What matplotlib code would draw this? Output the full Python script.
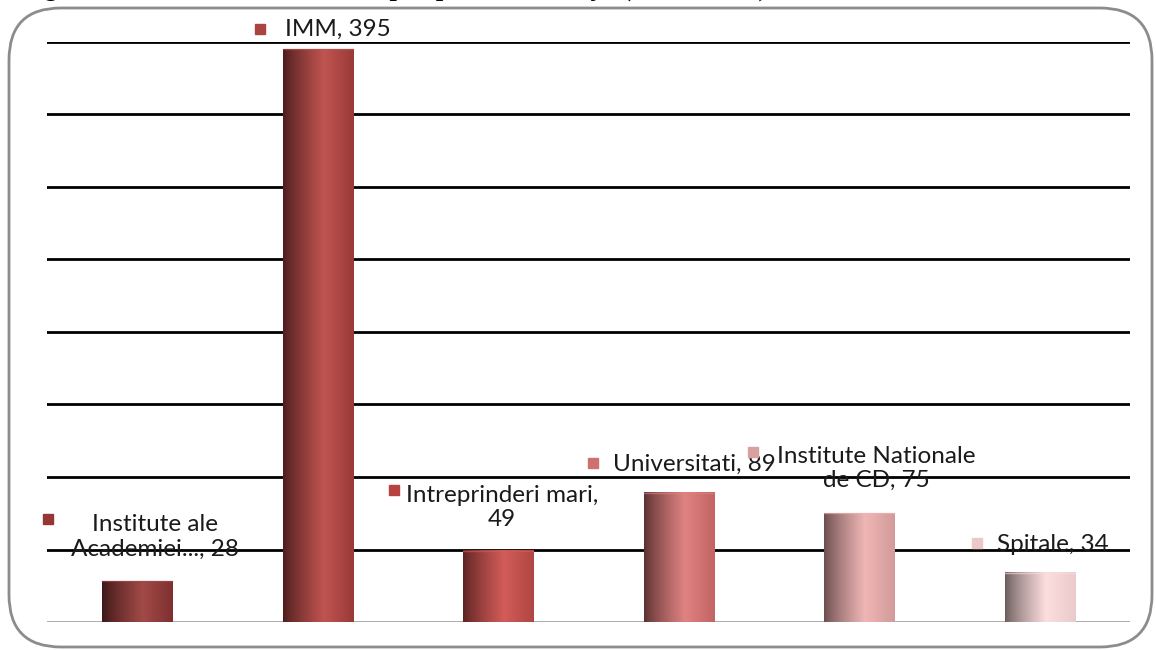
import matplotlib
matplotlib.use('Agg')
import matplotlib.pyplot as plt
import numpy as np
from matplotlib.colors import to_rgb
from matplotlib.patches import FancyBboxPatch

# data
categories = ['Institute ale\nAcademiei..., 28', 'IMM, 395', 'Intreprinderi mari,\n49',
              'Universitati, 89', 'Institute Nationale\nde CD, 75', 'Spitale, 34']
values = [28, 395, 49, 89, 75, 34]

# gradient stops per bar: left edge, highlight, right edge
left_cols = ['#3a1616', '#4a1c1c', '#5a2222', '#5a3030', '#6a4c4c', '#6a5a5a']
peak_cols = ['#a24a48', '#c05450', '#d25c58', '#e08282', '#f0b6b6', '#fcdede']
right_cols = ['#7e3030', '#9a3a38', '#b04642', '#c26464', '#d29a9a', '#eacaca']
marker_cols = ['#953735', '#a94442', '#b84240', '#cd7070', '#d9a0a0', '#ecc8c8']

# label layout (data coords): marker x,y ; text x,y ; horizontal alignment
mk_x = [-0.494, 0.68, 1.422, 2.525, 3.411, 4.652]
mk_y = [71.1, 408.8, 91.2, 109.8, 117.4, 54.6]
tx_x = [0.098, 0.819, 2.021, 2.636, 4.093, 4.763]
tx_y = [58.7, 408.5, 79.1, 108.4, 106.0, 53.2]
tx_ha = ['center', 'left', 'center', 'left', 'center', 'left']

W, H = 1156, 650
fig = plt.figure(figsize=(W / 100, H / 100), dpi=100)
fig.patch.set_facecolor('white')

# rounded frame
frame = FancyBboxPatch((9 / W, 3 / H), 1143 / W, 639 / H,
                       boxstyle='round,pad=0,rounding_size=0.045',
                       transform=fig.transFigure, facecolor='none',
                       edgecolor='#8c8c8c', lw=2, mutation_aspect=W / H)
fig.patches.append(frame)

# caption, cut off by the top edge as in the source
fig.text(22 / W, 1 + 4 / H, 'Figura 3.16: Proiecte contractate pe tipuri de instituţie (număr total)',
         family='Liberation Serif', style='italic', weight='bold', fontsize=19,
         va='baseline', ha='left')

ax = fig.add_axes([47 / W, 28 / H, 1083 / W, 580 / H])
ax.set_xlim(-0.5, len(values) - 0.5)
ax.set_ylim(0, 400)
ax.axis('off')

for g in range(50, 401, 50):
    ax.axhline(g, color='black', lw=2, zorder=1)
ax.axhline(0, color='#a6a6a6', lw=2, zorder=1)

x = np.arange(len(values))
bars = ax.bar(x, values, width=0.39, color='none', zorder=2)
t = np.linspace(0, 1, 200)
for i, b in enumerate(bars):
    l, p, r = [np.array(to_rgb(c)) for c in (left_cols[i], peak_cols[i], right_cols[i])]
    grad = np.zeros((1, len(t), 3))
    for j, tt in enumerate(t):
        if tt < 0.58:
            s = (tt / 0.58) ** 0.8
            grad[0, j] = l + (p - l) * s
        else:
            s = (tt - 0.58) / 0.42
            grad[0, j] = p + (r - p) * s
    x0 = b.get_x()
    ax.imshow(grad, extent=(x0, x0 + b.get_width(), 0, b.get_height()),
              aspect='auto', zorder=2, interpolation='bilinear')
    ax.plot([x0, x0 + b.get_width()], [b.get_height()] * 2, color=peak_cols[i],
            lw=1, alpha=0.6, zorder=3)

ax.set_xlim(-0.5, len(values) - 0.5)
ax.set_ylim(0, 400)

for i in range(len(values)):
    ax.plot(mk_x[i], mk_y[i], marker='s', ms=7, color=marker_cols[i],
            clip_on=False, zorder=4)
    ax.text(tx_x[i], tx_y[i], categories[i], ha=tx_ha[i], va='center',
            multialignment='center', family='Lato', fontsize=17.5,
            color='#1a1a1a', linespacing=1.2, clip_on=False, zorder=4)

fig.savefig('out.png', dpi=100)
